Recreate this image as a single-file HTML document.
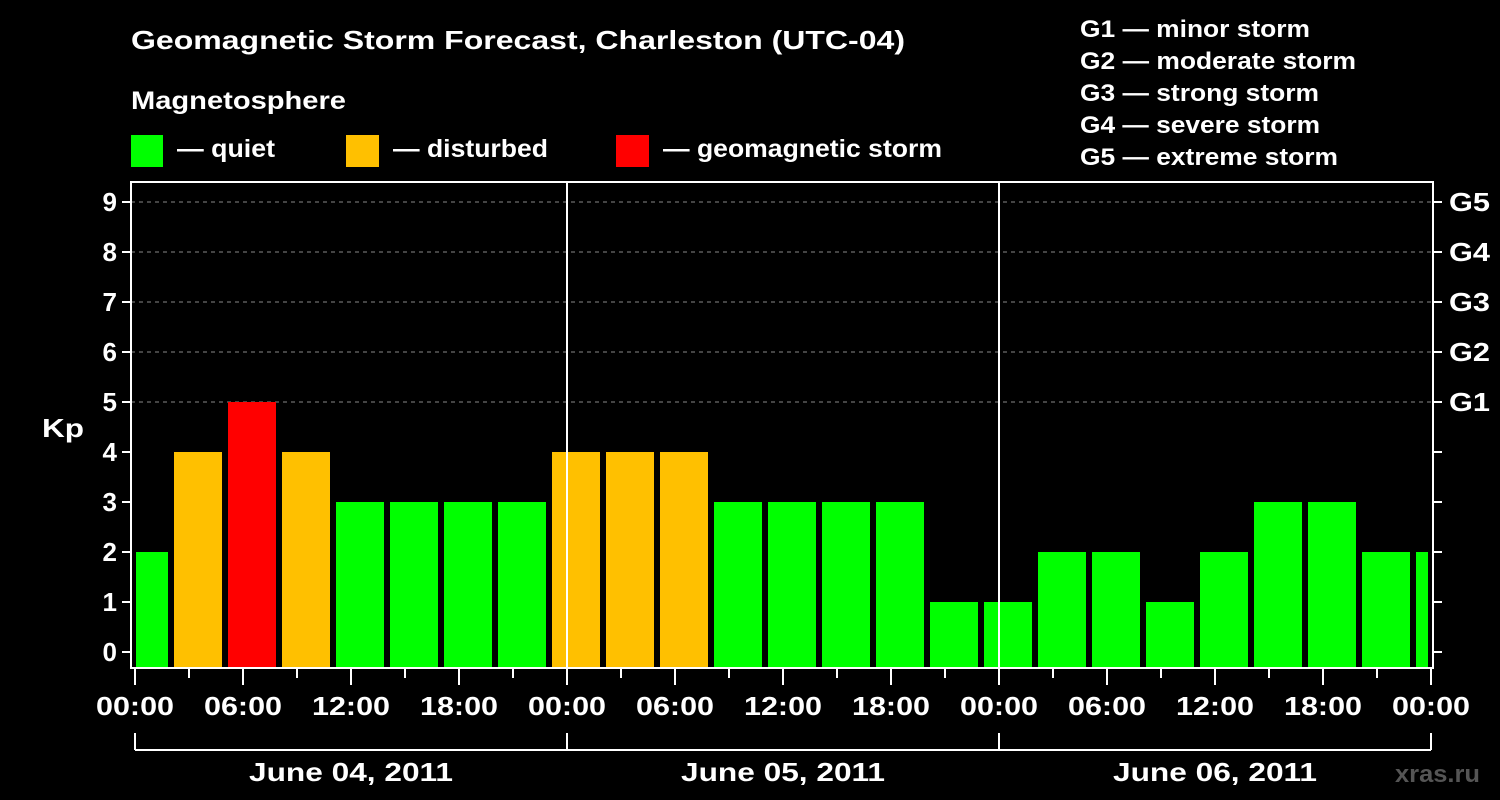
<!DOCTYPE html>
<html><head><meta charset="utf-8"><style>
body{margin:0;background:#000;}
svg{display:block;font-family:"Liberation Sans",Arial,Helvetica,sans-serif;font-weight:bold;}
</style></head><body>
<svg id="c" width="1500" height="800" viewBox="0 0 1500 800" font-family="Liberation Sans, Arial, sans-serif">
<rect width="1500" height="800" fill="#000"/>
<text x="131" y="49" fill="#fff" font-size="26" textLength="774" lengthAdjust="spacingAndGlyphs">Geomagnetic Storm Forecast, Charleston (UTC-04)</text>
<text x="131" y="109" fill="#fff" font-size="25" textLength="215" lengthAdjust="spacingAndGlyphs">Magnetosphere</text>
<g><rect x="131" y="135" width="32" height="32" fill="#00ff00"/><text x="177" y="157" fill="#fff" font-size="25" textLength="98" lengthAdjust="spacingAndGlyphs">— quiet</text></g>
<g><rect x="346" y="135" width="33" height="32" fill="#ffc000"/><text x="393" y="157" fill="#fff" font-size="25" textLength="155" lengthAdjust="spacingAndGlyphs">— disturbed</text></g>
<g><rect x="616" y="135" width="33" height="32" fill="#ff0000"/><text x="663" y="157" fill="#fff" font-size="25" textLength="279" lengthAdjust="spacingAndGlyphs">— geomagnetic storm</text></g>
<g fill="#fff" font-size="24">
<text x="1080" y="37" textLength="230" lengthAdjust="spacingAndGlyphs">G1 — minor storm</text>
<text x="1080" y="69" textLength="276" lengthAdjust="spacingAndGlyphs">G2 — moderate storm</text>
<text x="1080" y="101" textLength="239" lengthAdjust="spacingAndGlyphs">G3 — strong storm</text>
<text x="1080" y="133" textLength="240" lengthAdjust="spacingAndGlyphs">G4 — severe storm</text>
<text x="1080" y="165" textLength="258" lengthAdjust="spacingAndGlyphs">G5 — extreme storm</text>
</g>
<text x="42" y="437" fill="#fff" font-size="26" textLength="42" lengthAdjust="spacingAndGlyphs">Kp</text>
<text x="1395" y="782" fill="#555" font-size="24" textLength="85" lengthAdjust="spacingAndGlyphs">xras.ru</text>
<defs><clipPath id="pc"><rect x="136" y="182" width="1292" height="486"/></clipPath></defs>
<g id="grid"></g>
<g id="bars" clip-path="url(#pc)"></g>
<g id="axes"></g>
</svg>
<script>
const values=[2,4,5,4,3,3,3,3,4,4,4,3,3,3,3,1,1,2,2,1,2,3,3,2,2];
const xTickLabels=["00:00","06:00","12:00","18:00","00:00","06:00","12:00","18:00","00:00","06:00","12:00","18:00","00:00"];
const dayLabels=["June 04, 2011","June 05, 2011","June 06, 2011"];
const yTicks=[0,1,2,3,4,5,6,7,8,9];
const gLabels=["G1","G2","G3","G4","G5"];
const NS="http://www.w3.org/2000/svg";
const x0=135,pxH=18,yBase=652,pxK=50,plotBottom=668,plotTop=182;
const X=h=>x0+h*pxH, Y=k=>yBase-k*pxK;
function mk(t,a,p){const e=document.createElementNS(NS,t);for(const k in a)e.setAttribute(k,a[k]);p.appendChild(e);return e;}
const grid=document.getElementById('grid'),bars=document.getElementById('bars'),axes=document.getElementById('axes');
for(let k=5;k<=9;k++){const l=mk('line',{x1:131,x2:1433,y1:Y(k),y2:Y(k),stroke:'#888','stroke-dasharray':'4,4','stroke-width':1},grid);

}
values.forEach((v,i)=>{const c=v>=5?'#ff0000':v==4?'#ffc000':'#00ff00';
const xc=X(3*i+0.5);
const r=mk('rect',{x:xc-24,y:Y(v),width:48,height:plotBottom-Y(v),fill:c},bars);

});
mk('rect',{x:131,y:plotTop,width:1302,height:plotBottom-plotTop,fill:'none',stroke:'#fff','stroke-width':2},axes);
[1,2].forEach(d=>{mk('line',{x1:X(24*d),x2:X(24*d),y1:plotTop,y2:plotBottom,stroke:'#fff','stroke-width':2},axes);});
yTicks.forEach(k=>{mk('line',{x1:122,x2:131,y1:Y(k),y2:Y(k),stroke:'#fff','stroke-width':2},axes);
mk('line',{x1:1433,x2:1442,y1:Y(k),y2:Y(k),stroke:'#fff','stroke-width':2},axes);
const t=mk('text',{x:117,y:Y(k)+9,fill:'#fff','font-size':26,'text-anchor':'end'},axes);t.textContent=k;

});
gLabels.forEach((g,i)=>{const t=mk('text',{x:1449,y:Y(5+i)+9,fill:'#fff','font-size':26,textLength:41,lengthAdjust:'spacingAndGlyphs'},axes);t.textContent=g;

});
for(let h=0;h<=72;h+=3){const maj=h%6==0;mk('line',{x1:X(h),x2:X(h),y1:669,y2:maj?685:678,stroke:'#fff','stroke-width':2},axes);}
xTickLabels.forEach((s,i)=>{const t=mk('text',{x:X(6*i),y:715,fill:'#fff','font-size':26,'text-anchor':'middle',textLength:78,lengthAdjust:'spacingAndGlyphs'},axes);t.textContent=s;

});
mk('line',{x1:X(0),x2:X(72),y1:750,y2:750,stroke:'#fff','stroke-width':2},axes);
for(let d=0;d<=3;d++)mk('line',{x1:X(24*d),x2:X(24*d),y1:733,y2:750,stroke:'#fff','stroke-width':2},axes);
dayLabels.forEach((s,i)=>{const t=mk('text',{x:X(24*i+12),y:781,fill:'#fff','font-size':26,'text-anchor':'middle',textLength:204,lengthAdjust:'spacingAndGlyphs'},axes);t.textContent=s;

});
</script>
</body></html>
